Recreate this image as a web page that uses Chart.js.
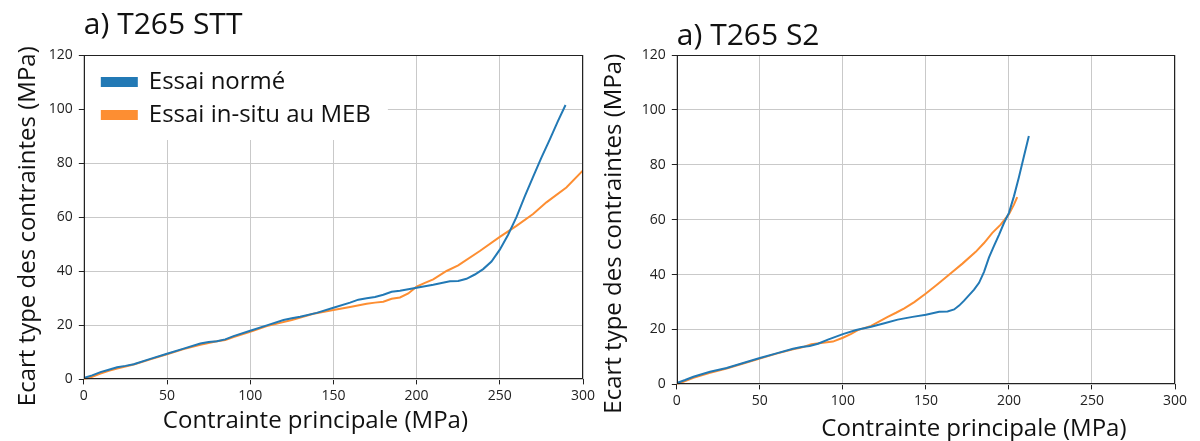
<!DOCTYPE html>
<html>
<head>
<meta charset="utf-8">
<script src="https://cdn.jsdelivr.net/npm/chart.js@4.4.1/dist/chart.umd.min.js"></script>
<style>
  html, body { margin: 0; padding: 0; background: #ffffff; }
  body { width: 1200px; height: 441px; position: relative; overflow: hidden; }
  .panel { position: absolute; top: 0; width: 600px; height: 441px; }
  #p1 { left: 0; }
  #p2 { left: 600px; }
</style>
</head>
<body>
<div class="panel" id="p1"><canvas id="c1" width="600" height="441"></canvas></div>
<div class="panel" id="p2"><canvas id="c2" width="600" height="441"></canvas></div>
<script>
// ---------- Data ----------
const seriesLabels = ["Essai normé", "Essai in-situ au MEB"];
const panelTitles = ["a) T265 STT", "a) T265 S2"];
const xAxisTitle = "Contrainte principale (MPa)";
const yAxisTitle = "Ecart type des contraintes (MPa)";
const xTicks = [0, 50, 100, 150, 200, 250, 300];
const yTicks = [0, 20, 40, 60, 80, 100, 120];

// Panel a) T265 STT — Essai normé
const sttNormeX = [0, 5, 10, 15, 20, 25, 30, 40, 50, 60, 70, 75, 80, 85, 90, 100, 110, 120, 125, 130, 140, 150, 160, 165, 170, 175, 180, 185, 190, 200, 210, 220, 225, 230, 235, 240, 245, 250, 255, 260, 265, 270, 275, 280, 285, 289.5];
const sttNormeY = [0.5, 1.5, 2.7, 3.6, 4.5, 5.0, 5.6, 7.6, 9.5, 11.4, 13.3, 13.8, 14.1, 14.8, 16.0, 18.0, 20.0, 22.0, 22.6, 23.2, 24.6, 26.5, 28.4, 29.5, 30.0, 30.5, 31.3, 32.4, 32.8, 33.9, 35.0, 36.3, 36.4, 37.2, 38.8, 40.8, 43.6, 48.0, 53.5, 60.0, 67.7, 74.9, 82.0, 88.7, 95.6, 101.5];
// Panel a) T265 STT — Essai in-situ au MEB
const sttMebX = [0, 5, 10, 15, 20, 25, 30, 40, 50, 60, 70, 75, 80, 85, 90, 100, 110, 118, 125, 138, 150, 160, 170, 175, 180, 185, 190, 195, 200, 205, 210, 218, 225, 238, 250, 260, 270, 278, 290, 300];
const sttMebY = [0, 1.0, 2.2, 3.2, 4.0, 4.8, 5.5, 7.4, 9.3, 11.2, 12.8, 13.5, 14.1, 14.6, 15.7, 17.6, 19.7, 20.9, 22.0, 24.3, 25.7, 26.8, 28.0, 28.4, 28.7, 29.8, 30.3, 31.8, 34.3, 35.7, 37.0, 40.1, 42.2, 47.5, 52.7, 56.8, 61.2, 65.5, 71.0, 77.3];

// Panel a) T265 S2 — Essai normé
const s2NormeX = [0, 5, 10, 20, 30, 40, 50, 60, 70, 75, 80, 85, 91, 100, 108, 117, 125, 133, 142, 150, 158, 163, 167, 170, 173, 176, 179, 182, 185, 188, 191, 194, 197, 200, 203, 206, 209, 212];
const s2NormeY = [0.5, 1.6, 2.8, 4.6, 6.0, 7.8, 9.6, 11.3, 13.0, 13.6, 14.0, 14.8, 16.3, 18.3, 19.8, 21.0, 22.3, 23.6, 24.6, 25.4, 26.5, 26.6, 27.3, 28.7, 30.5, 32.5, 34.5, 37.0, 41.0, 46.3, 50.5, 54.5, 58.8, 62.5, 68.5, 75.5, 83.0, 90.5];
// Panel a) T265 S2 — Essai in-situ au MEB
const s2MebX = [0, 5, 10, 20, 30, 40, 50, 60, 70, 75, 81, 88, 94, 100, 105, 109, 117, 122, 127, 132, 137, 143, 150, 157, 165, 172, 180, 185, 190, 195, 200, 203, 205];
const s2MebY = [0, 1.2, 2.4, 4.2, 5.8, 7.6, 9.4, 11.2, 12.8, 13.4, 14.6, 15.2, 15.6, 17.0, 18.4, 19.8, 21.3, 23.0, 24.6, 26.1, 27.7, 30.0, 33.1, 36.5, 40.5, 44.0, 48.3, 51.5, 55.2, 58.2, 62.0, 65.5, 68.2];

// ---------- Styling ----------
const BLUE = "#2279b5";
const ORANGE = "#fd8e32";
const FONT = "'Open Sans', 'DejaVu Sans', sans-serif";
Chart.defaults.font.family = FONT;
Chart.defaults.color = "#222";

const toPoints = (xs, ys) => xs.map((x, i) => ({ x: x, y: ys[i] }));

// Place the in-plot legend inside the plot area and give it a white box (like a matplotlib legend)
const legendInside = {
  id: "legendInside",
  afterLayout(chart, args, opts) {
    const lg = chart.legend;
    if (!lg || !lg.options.display || !lg.legendHitBoxes) return;
    const ca = chart.chartArea;
    const dx = opts.dx || 0, dy = opts.dy || 0;
    const shiftY = ca.top + dy - lg.top;
    lg.left += dx; lg.right += dx;
    lg.top += shiftY; lg.bottom += shiftY;
    lg.legendHitBoxes.forEach(h => { h.left += dx; h.top += shiftY; });
  },
  beforeDatasetsDraw(chart, args, opts) {
    const lg = chart.legend;
    if (!lg || !lg.options.display || !lg.legendHitBoxes || !lg.legendHitBoxes.length) return;
    const ca = chart.chartArea;
    let r = -Infinity, b = -Infinity;
    lg.legendHitBoxes.forEach(h => { r = Math.max(r, h.left + h.width); b = Math.max(b, h.top + h.height); });
    const ctx = chart.ctx;
    ctx.save();
    ctx.fillStyle = "#ffffff";
    ctx.fillRect(ca.left + 1, ca.top + 1, (r + (opts.extraRight || 0)) - ca.left - 1, (b + (opts.extraBottom || 0)) - ca.top - 1);
    ctx.restore();
    lg.draw();
  }
};

// Full box frame around the plot (matplotlib spines)
const plotFrame = {
  id: "plotFrame",
  afterDraw(chart) {
    const ca = chart.chartArea, ctx = chart.ctx;
    ctx.save();
    ctx.strokeStyle = "#222";
    ctx.lineWidth = 1;
    const l = Math.round(ca.left) + 0.5, t = Math.round(ca.top) + 0.5;
    const r = Math.round(ca.right) - 0.5, b = Math.round(ca.bottom) - 0.5;
    ctx.strokeRect(l, t, r - l, b - t);
    ctx.restore();
  }
};

// Shift axis titles slightly (their placement in the reference is off-centre)
const titleShift = {
  id: "titleShift",
  afterLayout(chart, args, opts) {
    Object.keys(opts || {}).forEach(id => {
      const s = chart.scales[id];
      if (!s || s._shiftWrapped) return;
      const orig = s.drawTitle;
      const d = opts[id];
      s.drawTitle = function () {
        const ctx = this.ctx;
        ctx.save();
        ctx.translate(d.dx || 0, d.dy || 0);
        orig.call(this);
        ctx.restore();
      };
      s._shiftWrapped = true;
    });
  }
};

function makeChart(canvasId, cfg) {
  const ctx = document.getElementById(canvasId);
  return new Chart(ctx, {
    type: "line",
    data: {
      datasets: [
        { label: seriesLabels[0], data: toPoints(cfg.normeX, cfg.normeY), borderColor: BLUE, backgroundColor: BLUE,
          borderWidth: 2, pointRadius: 0, tension: 0, fill: false },
        { label: seriesLabels[1], data: toPoints(cfg.mebX, cfg.mebY), borderColor: ORANGE, backgroundColor: ORANGE,
          borderWidth: 2, pointRadius: 0, tension: 0, fill: false }
      ]
    },
    options: {
      responsive: false,
      animation: false,
      layout: { padding: cfg.padding },
      scales: {
        x: {
          type: "linear",
          min: 0, max: 300,
          afterBuildTicks: (axis) => { axis.ticks = xTicks.map(v => ({ value: v })); },
          ticks: { font: { size: 14 }, color: "#222", padding: 3, maxRotation: 0 },
          grid: { color: "#c9c9c9", lineWidth: 1, tickColor: "#222", tickLength: 5, drawTicks: true },
          border: { display: false },
          title: { display: true, text: xAxisTitle, font: { size: 24 }, color: "#111", padding: cfg.xTitlePad }
        },
        y: {
          type: "linear",
          min: 0, max: 120,
          afterBuildTicks: (axis) => { axis.ticks = yTicks.map(v => ({ value: v })); },
          ticks: { font: { size: 14 }, color: "#222", padding: 6 },
          grid: { color: "#c9c9c9", lineWidth: 1, tickColor: "#222", tickLength: 5, drawTicks: true },
          border: { display: false },
          title: { display: true, text: yAxisTitle, font: { size: 24 }, color: "#111", padding: cfg.yTitlePad }
        }
      },
      plugins: {
        title: {
          display: true, text: cfg.title, align: "start", fullSize: false,
          font: { size: 30, weight: "normal" }, color: "#111", padding: cfg.titlePad
        },
        legend: cfg.legend ? {
          display: true, position: "chartArea", align: "start",
          labels: { boxWidth: 35, boxHeight: 8, padding: 9, color: "#111",
                    font: { size: 24 },
                    sort: (a, b) => a.datasetIndex - b.datasetIndex }
        } : { display: false },
        legendInside: { dx: 9, dy: 6, extraRight: 8, extraBottom: 13 },
        titleShift: cfg.shift,
        tooltip: { enabled: false }
      }
    },
    plugins: [legendInside, plotFrame, titleShift]
  });
}

makeChart("c1", {
  title: panelTitles[0],
  normeX: sttNormeX, normeY: sttNormeY, mebX: sttMebX, mebY: sttMebY,
  padding: { left: 14, right: 17, top: 7, bottom: 5 },
  titlePad: { top: 0, bottom: 12 },
  xTitlePad: { top: 0, bottom: 0 },
  yTitlePad: { top: 0, bottom: 0 },
  legend: true,
  shift: { x: { dx: -18, dy: 0 }, y: { dx: 0, dy: 9 } }
});

makeChart("c2", {
  title: panelTitles[1],
  normeX: s2NormeX, normeY: s2NormeY, mebX: s2MebX, mebY: s2MebY,
  padding: { left: 0, right: 25, top: 18, bottom: 0 },
  titlePad: { top: 0, bottom: 1 },
  xTitlePad: { top: 0, bottom: 0 },
  yTitlePad: { top: 0, bottom: 7 },
  legend: false,
  shift: { x: { dx: 48, dy: 3 }, y: { dx: 0, dy: 14 } }
});
</script>
</body>
</html>
